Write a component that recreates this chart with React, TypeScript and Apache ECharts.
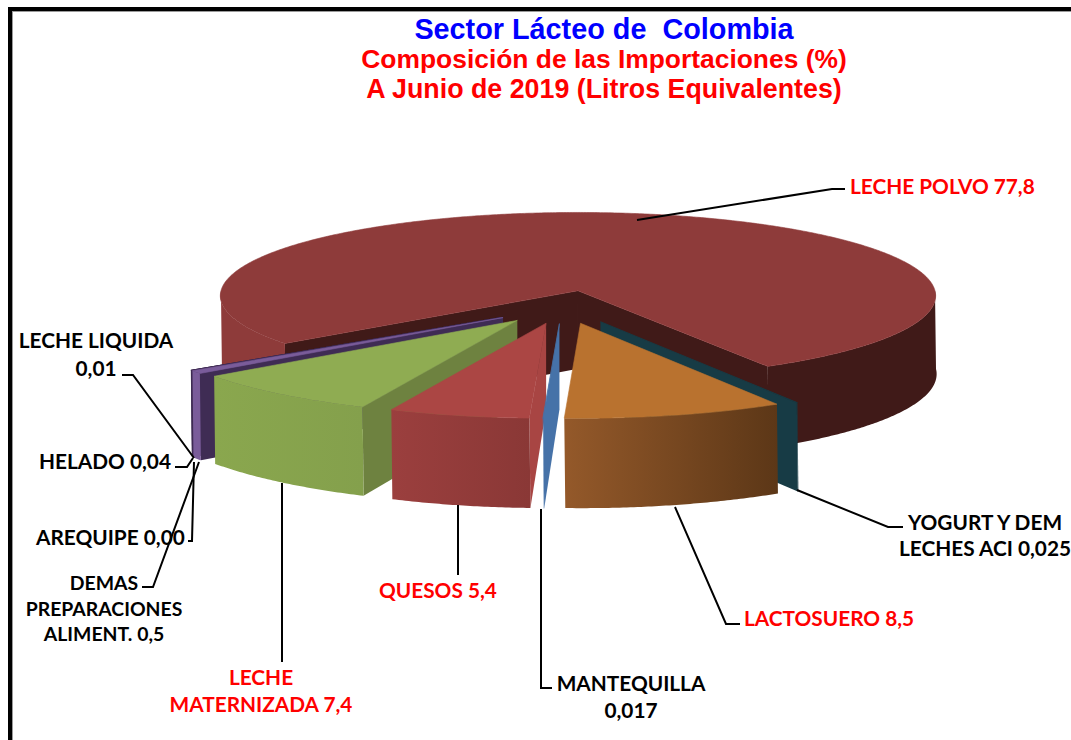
import React, { useEffect, useRef } from "react";
import * as echarts from "echarts";

// clockwise, starting at the front-right edge of the big slice
const categories = ["YOGURT Y DEM LECHES ACI", "LACTOSUERO", "MANTEQUILLA", "QUESOS", "LECHE MATERNIZADA", "DEMAS PREPARACIONES ALIMENT.", "HELADO", "AREQUIPE", "LECHE LIQUIDA", "LECHE POLVO"];
const values = [0.025, 8.5, 0.017, 5.4, 7.4, 0.5, 0.04, 0.0, 0.01, 77.8];
const paintRank = [1, 9, 8, 7, 6, 5, 4, 3, 2, 0];
const topColors = ["#173b45", "#b9722f", "#4672a8", "#ab4644", "#8fac52", "#7a5c9a", "#3f2c54", "#3f2c54", "#3f2c54", "#8e3b3a"];
const faceColors = ["#173b45", "#5c3717", "#4672a8", "#a84543", "#6e8240", "#3f2c54", "#3f2c54", "#3f2c54", "#3f2c54", "#401a18"];
const wallLeft = ["#173b45", "#94592a", "#4672a8", "#9b3f3e", "#8aa74e", "#7a5c9a", "#3f2c54", "#3f2c54", "#3f2c54", "#8e3b3a"];
const wallRight = ["#173b45", "#5c3717", "#4672a8", "#8a3836", "#84a04c", "#7a5c9a", "#3f2c54", "#3f2c54", "#3f2c54", "#401a18"];

const titleLines = ["Sector Lácteo de  Colombia", "Composición de las Importaciones (%)", "A Junio de 2019 (Litros Equivalentes)"];
const titleColors = ["#0000ff", "#ff0000", "#ff0000"];

const labelTexts = [
  "LECHE POLVO 77,8", "YOGURT Y DEM\nLECHES ACI 0,025", "LACTOSUERO 8,5", "MANTEQUILLA\n0,017", "QUESOS 5,4",
  "LECHE\nMATERNIZADA 7,4", "DEMAS\nPREPARACIONES\nALIMENT. 0,5", "AREQUIPE 0,00", "HELADO 0,04", "LECHE LIQUIDA\n0,01",
];
const labelColors = ["#ff0000", "#000000", "#ff0000", "#000000", "#ff0000", "#ff0000", "#000000", "#000000", "#000000", "#000000"];

// layout of labels: [x, y, align, lineHeight, fontSize]
const labelPos: [number, number, string, number, number][] = [
  [850, 185, "left", 26, 20.8], [985, 534, "center", 26, 20.8], [744, 617, "left", 26, 20.8], [631, 696, "center", 27, 20.8], [379, 589, "left", 26, 20.8],
  [261, 690, "center", 27, 20.8], [104, 608, "center", 25.5, 19.4], [36, 536, "left", 26, 20.8], [39, 460, "left", 26, 20.8], [96, 353, "center", 28, 20.8],
];
const leaders: number[][][] = [
  [[637, 220], [832, 189], [845, 189]],
  [[797, 490], [888, 527], [903, 527]],
  [[675, 507], [726, 624], [740, 624]],
  [[541, 509], [541, 688], [552, 688]],
  [[458, 505], [458, 575]],
  [[282, 483], [282, 662]],
  [[142, 587], [153, 587], [199, 462]],
  [[188, 541], [192, 541], [194, 462]],
  [[175, 467], [187, 467], [193, 458]],
  [[122, 375], [133, 375], [194, 458]],
];

// projection of the tilted pie
const CX = 564, CY = 307, EX = 79, EY = 16.6, START = 62.5;
const FRONT = { A: 375, b: 95, p: 0, w: 0.12, c: 100, ex: 1 };
const BACK = { A: 357, b: 83, p: 0.06, w: 0.053, c: 128, ex: 0.85 };
const rad = (d: number) => (d * Math.PI) / 180;
const total = values.reduce((a, b) => a + b, 0);

function renderItem(params: any, api: any) {
  const i = params.dataIndex;
  let before = 0;
  for (let k = 0; k < i; k++) before += values[k];
  const v = api.value(0);
  const a0 = START + (before / total) * 360;
  const a1 = a0 + (v / total) * 360;
  const mid = (a0 + a1) / 2;
  const sm = Math.sin(rad(mid));
  const P = sm >= 0 ? FRONT : BACK;
  const ax = CX + EX * P.ex * Math.cos(rad(mid));
  const ay = CY + EY * sm;
  const warp = (d: number) => d + (P.w * 180 / Math.PI) * Math.sin(rad(d - P.c));
  const rim = (d: number) => {
    const t = rad(warp(d));
    const s = Math.sin(t), c = Math.cos(t);
    const f = 1 / (1 - P.p * s);
    return { x: ax + P.A * c * f, y: ay + P.b * s * f, s };
  };
  const depth = (s: number) => 82 + 4 * sm + 4 * s;
  const n = Math.max(2, Math.ceil((a1 - a0) * 2));
  const pts = [];
  for (let k = 0; k <= n; k++) pts.push(rim(a0 + ((a1 - a0) * k) / n));

  const z = paintRank[i] * 10;
  const children: any[] = [];
  const poly = (points: number[][], fill: any, z2: number, stroke: any = null) =>
    children.push({ type: "polygon", silent: true, z2, shape: { points }, style: { fill, stroke, lineWidth: stroke ? 0.6 : 0 } });

  const apexDepth = depth(0);
  const face = (r: any) => [[ax, ay], [r.x, r.y], [r.x + 1, r.y + depth(r.s)], [ax, ay + apexDepth]];
  const first = pts[0], last = pts[n];
  if (first.x < ax) poly(face(first), faceColors[i], z);
  if (last.x > ax) poly(face(last), faceColors[i], z + 1);

  // outer wall: consecutive rim samples that face the viewer
  const parts: any[][] = [];
  let cur: any[] = [];
  pts.forEach((q) => {
    if (q.s >= 0) cur.push(q);
    else if (cur.length) { parts.push(cur); cur = []; }
  });
  if (cur.length) parts.push(cur);
  parts.forEach((part) => {
    const ring = part.map((q) => [q.x, q.y]).concat(part.slice().reverse().map((q) => [q.x + 1, q.y + depth(q.s)]));
    let fill: any;
    if (parts.length > 1) {
      fill = part[0].x < ax ? wallLeft[i] : wallRight[i];
    } else if (wallLeft[i] === wallRight[i]) {
      fill = wallLeft[i];
    } else {
      fill = new echarts.graphic.LinearGradient(0, 0, 1, 0, [
        { offset: 0, color: wallLeft[i] },
        { offset: 1, color: wallRight[i] },
      ]);
    }
    poly(ring, fill, z + 2);
  });

  poly([[ax, ay], ...pts.map((q) => [q.x, q.y])], topColors[i], z + 3, topColors[i]);
  return { type: "group", children };
}

export default function App() {
  const ref = useRef<HTMLDivElement>(null);
  useEffect(() => {
    const chart = echarts.init(ref.current!, undefined, { renderer: "svg" });
    const sizes = [28.8, 26.4, 26.8];
    const tops = [14, 46, 75];
    chart.setOption({
      animation: false,
      backgroundColor: "#ffffff",
      title: titleLines.map((t, k) => ({
        text: t,
        left: 604,
        top: tops[k],
        padding: 0,
        textAlign: "center",
        textStyle: { color: titleColors[k], fontFamily: "Liberation Sans", fontWeight: "bold", fontSize: sizes[k] },
      })),
      series: [
        {
          type: "custom",
          coordinateSystem: "none",
          renderItem,
          data: values.map((v, k) => ({ name: categories[k], value: [v] })),
          z: 2,
        },
      ],
      graphic: [
        { type: "rect", z: 1, silent: true, shape: { x: 12, y: 11, width: 1059, height: 1 }, style: { fill: "#9a9a9a" } },
        { type: "rect", z: 1, silent: true, shape: { x: 12, y: 11, width: 1, height: 729 }, style: { fill: "#9a9a9a" } },
        { type: "rect", z: 1, silent: true, shape: { x: 8, y: 7, width: 1063, height: 4 }, style: { fill: "#000000" } },
        { type: "rect", z: 1, silent: true, shape: { x: 8, y: 7, width: 4, height: 733 }, style: { fill: "#000000" } },
        ...leaders.map((pts) => ({
          type: "polyline",
          z: 5,
          silent: true,
          shape: { points: pts },
          style: { stroke: "#000000", lineWidth: 2, fill: null },
        })),
        ...labelTexts.map((t, k) => ({
          type: "text",
          z: 6,
          silent: true,
          x: labelPos[k][0],
          y: labelPos[k][1],
          style: {
            text: t,
            fill: labelColors[k],
            font: `bold ${labelPos[k][4]}px Lato`,
            lineHeight: labelPos[k][3],
            align: labelPos[k][2],
            verticalAlign: "middle",
          },
        })),
      ],
    });
    return () => chart.dispose();
  }, []);
  return <div ref={ref} style={{ position: "absolute", left: 0, top: 0, width: 1071, height: 740 }} />;
}
